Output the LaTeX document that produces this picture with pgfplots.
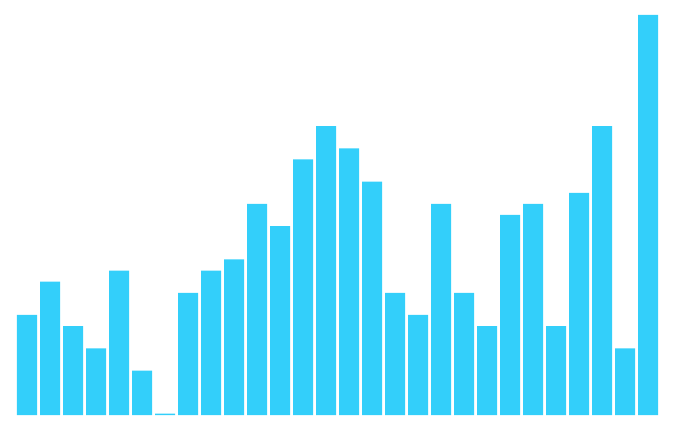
\documentclass[border=0pt]{standalone}
\usepackage{pgfplots}
\pgfplotsset{compat=1.18}
\definecolor{barcyan}{RGB}{51,207,250}
\begin{document}
\begin{tikzpicture}
\path[use as bounding box] (0,0) rectangle (677pt,431pt);
\begin{axis}[at={(0,0)}, anchor=south west,
  scale only axis, width=677pt, height=431pt,
  hide axis,
  xmin=-1.1739, xmax=28.2609,
  ymin=-1.44, ymax=37.35,
  ]
  % bars
  \addplot[ybar, bar width=20pt, fill=barcyan, draw=none] coordinates {
    (0,9) (1,12) (2,8) (3,6) (4,13) (5,4) (6,0.12) (7,11)
    (8,13) (9,14) (10,19) (11,17) (12,23) (13,26) (14,24) (15,21)
    (16,11) (17,9) (18,19) (19,11) (20,8) (21,18) (22,19) (23,8)
    (24,20) (25,26) (26,6) (27,36)
  };
\end{axis}
\end{tikzpicture}
\end{document}
